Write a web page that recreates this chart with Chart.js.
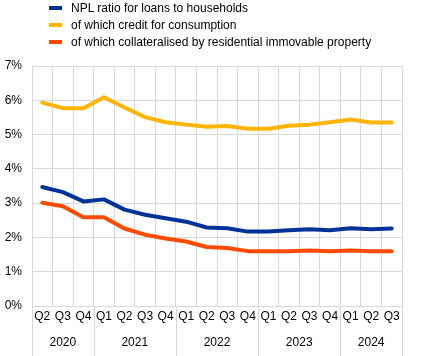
<!DOCTYPE html>
<html>
<head>
<meta charset="utf-8">
<script src="https://cdn.jsdelivr.net/npm/chart.js@4.4.1/dist/chart.umd.min.js"></script>
<style>
  html, body { margin: 0; padding: 0; background: #ffffff; }
  #wrap { position: relative; width: 425px; height: 356px; overflow: hidden; }
  #c { position: absolute; left: 0; top: 0; }
  .legend { position: absolute; left: 0; top: 0; font-family: "Liberation Sans", Arial, sans-serif; font-size: 12px; color: #000; }
  .item { position: absolute; left: 49px; height: 14px; line-height: 14px; white-space: nowrap; }
  .sw { position: absolute; left: 0; top: 5px; width: 13px; height: 4px; }
  .lbl { position: absolute; left: 22px; top: 0; }
</style>
</head>
<body>
<div id="wrap">
  <canvas id="c" width="425" height="356"></canvas>
  <div class="legend" id="legend"></div>
</div>
<script>
// ---- data ----
const quarters = ['Q2','Q3','Q4','Q1','Q2','Q3','Q4','Q1','Q2','Q3','Q4','Q1','Q2','Q3','Q4','Q1','Q2','Q3'];
const years = ['2020','2021','2022','2023','2024'];
const quartersPerYear = [3, 4, 4, 4, 3];
const seriesNames = [
  'NPL ratio for loans to households',
  'of which credit for consumption',
  'of which collateralised by residential immovable property'
];
const nplHouseholds = [3.47, 3.32, 3.05, 3.11, 2.81, 2.66, 2.56, 2.46, 2.29, 2.27, 2.17, 2.17, 2.21, 2.24, 2.21, 2.27, 2.24, 2.26];
const consumptionCredit = [5.93, 5.77, 5.77, 6.09, 5.79, 5.51, 5.36, 5.29, 5.23, 5.25, 5.17, 5.17, 5.26, 5.29, 5.36, 5.44, 5.35, 5.35];
const residentialProperty = [3.01, 2.91, 2.59, 2.59, 2.26, 2.08, 1.97, 1.88, 1.72, 1.69, 1.60, 1.60, 1.60, 1.62, 1.60, 1.62, 1.60, 1.60];
const yTicks = [0, 1, 2, 3, 4, 5, 6, 7];

const colors = ['#003299', '#ffb400', '#ff4b00'];
const FONT = '"Liberation Sans", Arial, sans-serif';

// ---- HTML legend ----
const legendEl = document.getElementById('legend');
seriesNames.forEach((name, i) => {
  const it = document.createElement('div');
  it.className = 'item';
  it.style.top = (1 + i * 17) + 'px';
  it.innerHTML = '<span class="sw" style="background:' + colors[i] + '"></span><span class="lbl"></span>';
  it.querySelector('.lbl').textContent = name;
  legendEl.appendChild(it);
});

// ---- year grouping plugin ----
const yearPlugin = {
  id: 'yearGroups',
  afterDraw(chart) {
    const ctx = chart.ctx;
    const xs = chart.scales.x;
    const area = chart.chartArea;
    const step = xs.getPixelForValue(1) - xs.getPixelForValue(0);
    ctx.save();
    ctx.strokeStyle = '#d9d9d9';
    ctx.lineWidth = 1;
    ctx.fillStyle = '#000';
    ctx.font = '12px ' + FONT;
    ctx.textAlign = 'center';
    ctx.textBaseline = 'middle';
    let start = 0;
    const drawSep = (px) => {
      const x = Math.round(px) + 0.5;
      ctx.beginPath();
      ctx.moveTo(x, area.bottom);
      ctx.lineTo(x, chart.height);
      ctx.stroke();
    };
    drawSep(xs.getPixelForValue(0) - step / 2);
    years.forEach((yr, g) => {
      const n = quartersPerYear[g];
      const left = xs.getPixelForValue(start) - step / 2;
      const right = xs.getPixelForValue(start + n - 1) + step / 2;
      drawSep(right);
      ctx.fillText(yr, (left + right) / 2, 343);
      start += n;
    });
    ctx.restore();
  }
};

new Chart(document.getElementById('c'), {
  type: 'line',
  data: {
    labels: quarters,
    datasets: [
      { label: seriesNames[0], data: nplHouseholds, borderColor: colors[0], backgroundColor: colors[0] },
      { label: seriesNames[1], data: consumptionCredit, borderColor: colors[1], backgroundColor: colors[1] },
      { label: seriesNames[2], data: residentialProperty, borderColor: colors[2], backgroundColor: colors[2] }
    ]
  },
  options: {
    responsive: false,
    animation: false,
    devicePixelRatio: 1,
    layout: { padding: { top: 66, right: 23, left: 0, bottom: 0 } },
    elements: {
      line: { borderWidth: 4, tension: 0, borderCapStyle: 'round', borderJoinStyle: 'round' },
      point: { radius: 0, hoverRadius: 0 }
    },
    plugins: {
      legend: { display: false },
      tooltip: { enabled: false }
    },
    scales: {
      x: {
        type: 'category',
        offset: true,
        grid: { color: '#d9d9d9', lineWidth: 1, offset: true, drawTicks: false },
        border: { color: '#d9d9d9' },
        ticks: { color: '#000', font: { family: FONT, size: 12 }, padding: 3, maxRotation: 0, autoSkip: false },
        afterFit(s) { s.height = 50; }
      },
      y: {
        min: 0, max: 7,
        afterBuildTicks(s) { s.ticks = yTicks.map(v => ({ value: v })); },
        grid: { color: '#d9d9d9', lineWidth: 1, drawTicks: false },
        border: { color: '#d9d9d9' },
        ticks: { color: '#000', font: { family: FONT, size: 12 }, padding: 10, callback: v => v + '%' },
        afterFit(s) { s.width = 32; }
      }
    }
  },
  plugins: [yearPlugin]
});
</script>
</body>
</html>
